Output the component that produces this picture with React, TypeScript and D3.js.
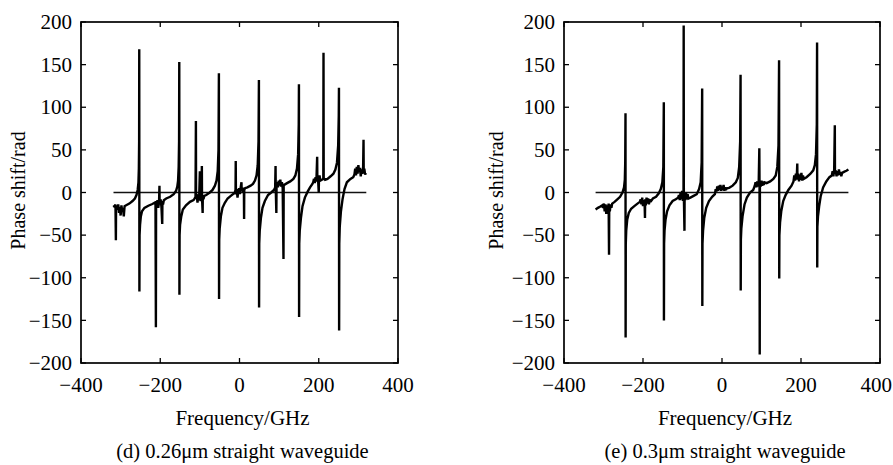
import React from "react";
import * as d3 from "d3";

const xTicks = [-400, -200, 0, 200, 400];
const yTicks = [-200, -150, -100, -50, 0, 50, 100, 150, 200];
const xTickLabels = ["\u2212400", "\u2212200", "0", "200", "400"];
const yTickLabels = ["\u2212200", "\u2212150", "\u2212100", "\u221250", "0", "50", "100", "150", "200"];

const zeroLineD: [number, number] = [-318, 320];
const zeroLineE: [number, number] = [-320, 320];

// (d) 0.26um straight waveguide: [frequency GHz, phase rad]
const curveD: [number, number][] = [
  [-318,-15],[-315,-17],[-313,-14],[-312,-56],[-311.5,-16],[-309,-20],[-306,-14],[-304,-24],[-302,-17],[-300,-27],[-298,-15],[-296,-22],[-294,-18],[-292,-28],[-290,-16],[-286,-15],
  [-278,-13],[-270,-10],[-264,-7],[-260,-3],[-257,3],[-255,12],[-254,28],[-253.3,60],[-253,168],[-252.6,-116],[-252.2,-50],[-251,-38],[-249,-28],[-246,-22],[-240,-18],[-230,-15.5],[-220,-13.5],[-214,-12],
  [-212,-14],[-211,-158],[-210.5,-10],[-209,-15],[-207,-9],[-205,-18],[-203,-11],[-202,8],[-201.5,-13],[-199,-8],[-197,-17],[-195,-37],[-194.5,-10],[-193,-14],[-191,-9],
  [-185,-7],[-175,-5],[-166,-2],[-160,2],[-157,7],[-155,14],[-153.5,30],[-152.5,60],[-152,153],[-151.6,-120],[-151.2,-50],[-150,-38],[-147,-28],[-143,-20],[-135,-15],[-125,-11],[-116,-9],
  [-113,-7],[-111,-5],[-110,84],[-109.6,-6],[-108,-2],[-106,-12],[-104,-4],[-102,-9],[-100,25],[-99.6,-3],[-98,-10],[-96,-2],[-95,31],[-94.6,-6],[-93,-24],[-92.6,-3],[-91,-8],[-89,-4],
  [-84,-3],[-75,0],[-68,3],[-62,8],[-58,14],[-55,25],[-53,50],[-52,140],[-51.6,-125],[-51.2,-55],[-50,-42],[-47,-28],[-43,-18],[-37,-12],[-30,-7],[-22,-4],[-14,-1],
  [-12,0],[-10,3],[-9.5,37],[-9,-2],[-7,4],[-5,-6],[-3,2],[-1,5],[1,-2],[3,6],[5,12],[5.5,2],[7,5],[9,0],[11,6],[11.6,-31],[12,3],[14,5],
  [20,6],[28,8],[34,10],[39,14],[43,20],[46,32],[48,60],[49,132],[49.4,-135],[49.8,-60],[51,-45],[54,-30],[58,-18],[64,-10],[72,-3],[80,0],[87,3],
  [90,6],[91,31],[91.5,4],[93,-24],[93.5,8],[95,12],[97,6],[99,14],[101,8],[103,15],[105,7],[107,12],[109,5],[111,-78],[111.5,10],[113,9],
  [120,11],[128,13],[136,16],[141,20],[145,28],[148,45],[149.5,80],[150,127],[150.4,-146],[150.8,-60],[152,-45],[155,-30],[159,-16],[165,-6],[172,1],[178,6],[184,10],
  [186,12],[188,16],[190,11],[192,18],[194,13],[196,42],[196.5,14],[198,18],[200,0],[200.5,15],[202,20],[204,14],
  [208,15],[211.5,16],[212,164],[212.5,17],[216,15],[222,16],[230,19],[237,22],[242,27],[246,35],[249,55],[250.5,90],[251,123],[251.4,-162],[251.8,-60],[253,-40],[256,-22],[260,-8],[265,4],[271,12],[280,16],[287,18],
  [290,21],[292,28],[294,20],[296,30],[298,22],[300,32],[302,24],[304,29],[306,19],[308,27],[310,22],[312,30],[313,62],[313.5,24],[315,28],[317,21],[319,23],
];

// (e) 0.3um straight waveguide
const curveE: [number, number][] = [
  [-320,-20],[-314,-18],[-308,-16.5],[-303,-15],
  [-301,-18],[-299,-13],[-297,-22],[-295,-14],[-293,-25],[-291,-15],[-289,-20],[-287,-13],[-286,-73],[-285.5,-16],[-284,-22],[-282,-14],[-280,-18],[-278,-13],
  [-272,-11],[-265,-8],[-258,-5],[-252,0],[-248,6],[-246,15],[-245,35],[-244.3,93],[-244,-170],[-243.6,-60],[-242.5,-45],[-240,-32],[-236,-24],[-230,-19],[-222,-16],[-214,-13],[-208,-11],
  [-206,-8],[-204,-14],[-202,-6],[-200,-16],[-198,-9],[-196,-12],[-195,-30],[-194.5,-8],[-193,-15],[-191,-6],[-189,-13],[-187,-7],[-185,-14],[-183,-8],[-181,-11],
  [-175,-7],[-167,-5],[-160,-1],[-155,4],[-151,12],[-148.5,30],[-147.3,106],[-147,-150],[-146.6,-60],[-145.5,-45],[-143,-32],[-139,-22],[-133,-15],[-125,-10],[-117,-8],[-111,-6],
  [-109,-3],[-107,-9],[-105,0],[-103,-8],[-101,2],[-99,-10],[-97.4,-4],[-97,196],[-96.6,-3],[-95,-45],[-94.6,-2],[-93,-9],[-91,0],[-89,-8],[-87,-2],[-85,-7],
  [-80,-6],[-72,-4],[-64,-2],[-58,4],[-54,12],[-51.5,35],[-50.2,122],[-49.8,-133],[-49.4,-60],[-48,-45],[-45,-30],[-40,-18],[-33,-10],[-25,-5],[-18,-2],
  [-16,4],[-14,1],[-12,7],[-10,2],[-8,8],[-6,3],[-4,9],[-2,2],[0,7],[2,3],[4,9],[6,2],[8,6],[10,3],[12,5],
  [18,5.5],[27,8],[35,12],[40,17],[43.5,30],[46,60],[47,138],[47.4,-115],[47.8,-55],[49,-42],[52,-28],[57,-14],[63,-6],[71,0],[79,3],
  [83,8],[85,12],[87,6],[89,13],[91,7],[93,14],[94.5,52],[95,10],[95.5,-190],[96,12],[98,7],[100,14],[102,8],[104,13],[106,9],[108,12],
  [113,11],[122,13],[130,16],[136,20],[140,30],[143,55],[144.5,155],[144.9,-101],[145.3,-50],[147,-35],[150,-22],[155,-10],[161,-3],[168,3],[176,8],
  [181,13],[183,20],[185,14],[187,22],[189,15],[190.6,34],[191,16],[193,22],[195,13],[197,21],[199,15],[201,23],[203,14],[205,20],[207,16],
  [214,18],[224,22],[231,26],[235,32],[238,45],[240,80],[240.7,176],[241.1,-88],[241.5,-40],[243,-28],[246,-16],[250,-4],[256,6],[264,13],[272,18],
  [278,20],[280,25],[282,19],[284,27],[285.6,79],[286,22],[288,26],[290,19],[292,25],[294,20],[296,27],[298,21],[300,24],[302,19],[304,23],
  [310,24.5],[315,25.5],[320,27],
];

const FONT = "'Liberation Serif', Tinos, 'Times New Roman', 'DejaVu Serif', serif";
const textStyle: React.CSSProperties = { fontFamily: FONT };

type PanelProps = {
  left: number;
  right: number;
  data: [number, number][];
  zero: [number, number];
  yLabelX: number;
  caption: string;
};

const TOP = 22;
const BOTTOM = 363;
const W = 893;
const TICK_FS = 21;

function Panel({ left, right, data, zero, yLabelX, caption }: PanelProps) {
  const x = d3.scaleLinear().domain([-400, 400]).range([left, right]);
  const y = d3.scaleLinear().domain([-200, 200]).range([BOTTOM, TOP]);
  const line = d3.line<[number, number]>().x((d) => x(d[0])).y((d) => y(d[1])).curve(d3.curveLinear);
  const tl = 5;
  const cx = (left + right) / 2;
  return (
    <g>
      <line x1={x(zero[0])} x2={x(zero[1])} y1={y(0)} y2={y(0)} stroke="#111" strokeWidth={1.3} />
      <path d={line(data) || ""} fill="none" stroke="#000" strokeWidth={2.4} strokeLinejoin="miter" strokeMiterlimit={2} />
      <rect x={left} y={TOP} width={right - left} height={BOTTOM - TOP} fill="none" stroke="#000" strokeWidth={1.7} />
      {xTicks.map((t, i) => {
        const overflow = x(t) + 16 > W;
        return (
          <g key={"xt" + t}>
            <line x1={x(t)} x2={x(t)} y1={BOTTOM} y2={BOTTOM - tl} stroke="#000" strokeWidth={1.3} />
            <line x1={x(t)} x2={x(t)} y1={TOP} y2={TOP + tl} stroke="#000" strokeWidth={1.3} />
            <text
              x={overflow ? W - 1 : x(t)}
              y={392}
              textAnchor={overflow ? "end" : "middle"}
              fontSize={TICK_FS}
              style={textStyle}
              fill="#000"
            >
              {xTickLabels[i]}
            </text>
          </g>
        );
      })}
      {yTicks.map((t, i) => (
        <g key={"yt" + t}>
          <line x1={left} x2={left + tl} y1={y(t)} y2={y(t)} stroke="#000" strokeWidth={1.3} />
          <line x1={right} x2={right - tl} y1={y(t)} y2={y(t)} stroke="#000" strokeWidth={1.3} />
          <text x={left - 9} y={y(t)} dy="0.34em" textAnchor="end" fontSize={TICK_FS} style={textStyle} fill="#000">
            {yTickLabels[i]}
          </text>
        </g>
      ))}
      <text
        transform={`translate(${yLabelX},${(TOP + BOTTOM) / 2 - 2}) rotate(-90)`}
        textAnchor="middle"
        fontSize={20}
        style={textStyle}
        fill="#000"
      >
        Phase shift/rad
      </text>
      <text x={cx + 3} y={425} textAnchor="middle" fontSize={21} style={textStyle} fill="#000">
        Frequency/GHz
      </text>
      <text x={cx + 3} y={458} textAnchor="middle" fontSize={20.5} style={textStyle} fill="#000">
        {caption}
      </text>
    </g>
  );
}

export default function App() {
  return (
    <svg width={893} height={465} style={{ position: "absolute", left: 0, top: 0, background: "#fff" }}>
      <rect width={893} height={465} fill="#fff" />
      <Panel left={81} right={398} data={curveD} zero={zeroLineD} yLabelX={25} caption={"(d) 0.26\u03bcm straight waveguide"} />
      <Panel left={564} right={880} data={curveE} zero={zeroLineE} yLabelX={503} caption={"(e) 0.3\u03bcm straight waveguide"} />
    </svg>
  );
}
